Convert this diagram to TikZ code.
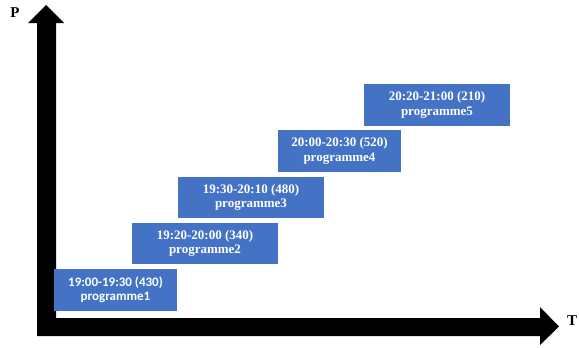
\documentclass[tikz,border=0pt]{standalone}
\usepackage{fontspec}
\setmainfont{Liberation Serif}
\newfontfamily\carlito{Carlito}
\definecolor{progblue}{HTML}{4472C4}
\tikzset{
    progbox/.style={fill=progblue, text=white, align=center, inner sep=0pt,
        font=\bfseries\fontsize{13}{14.5}\selectfont},
    axislabel/.style={font=\bfseries\fontsize{15}{15}\selectfont}
}
\begin{document}
\begin{tikzpicture}[x=1pt,y=-1pt]
        \useasboundingbox (0,0) rectangle (579,348);

        % axes
        \fill (37,336) -- (37,23) -- (28,23) -- (46,5) -- (64,23) -- (56,23) -- (56,318)
            -- (540,318) -- (540,307) -- (559,326.5) -- (540,345) -- (540,336) -- cycle;
        \node[axislabel] (p) at (15,13) {P};
        \node[axislabel] (t) at (572,321) {T};

        % programmes
        \node[progbox, minimum width=123pt, minimum height=42pt] (prog1) at (115.5,290)
            {\carlito\bfseries 19:00-19:30 (430)\\\carlito\bfseries programme1};
        \node[progbox, minimum width=146pt, minimum height=41pt] (prog2) at (205,243.5)
            {19:20-20:00 (340)\\programme2};
        \node[progbox, minimum width=146pt, minimum height=41pt] (prog3) at (251,197.5)
            {19:30-20:10 (480)\\programme3};
        \node[progbox, minimum width=123pt, minimum height=42pt] (prog4) at (339.5,151)
            {20:00-20:30 (520)\\programme4};
        \node[progbox, minimum width=146pt, minimum height=42pt] (prog5) at (437,105)
            {20:20-21:00 (210)\\programme5};
    \end{tikzpicture}
\end{document}
